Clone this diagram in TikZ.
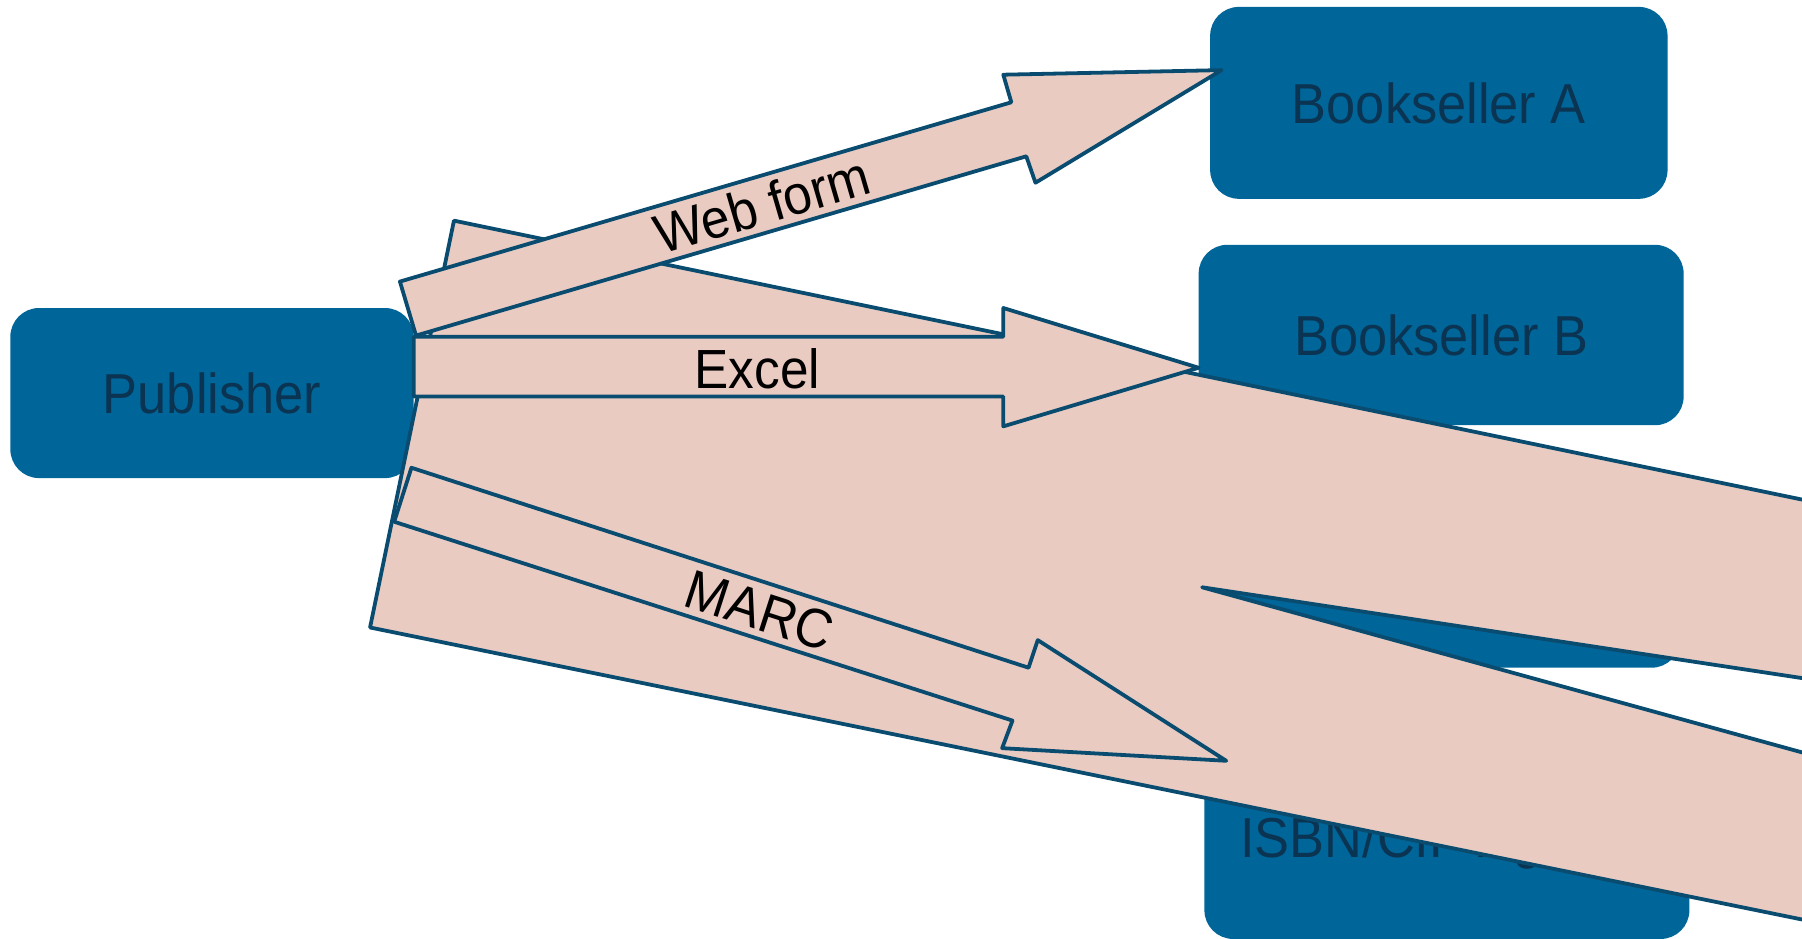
\documentclass[tikz,border=0pt]{standalone}
\usepackage{fontspec}
\setmainfont{Liberation Sans}

\definecolor{boxblue}{RGB}{0,102,153}
\definecolor{boxtext}{RGB}{10,52,82}
\definecolor{flowedge}{RGB}{10,76,112}
\definecolor{flowfill}{RGB}{234,203,194}

% slightly narrowed lettering
\newcommand\narrowtext[1]{\scalebox{0.93}[1]{#1}}

\tikzset{
  party/.style={rectangle, fill=boxblue, draw=none, rounded corners=25pt,
    inner sep=0pt, text=boxtext, text depth=0pt,
    font=\fontsize{49pt}{55pt}\selectfont},
  flow/.style={fill=flowfill, draw=flowedge, line width=3.3pt, line join=round},
  flowlabel/.style={inner sep=0pt, text=black, text depth=0pt,
    font=\fontsize{48pt}{54pt}\selectfont}
}

\begin{document}
\begin{tikzpicture}[x=1pt,y=-1pt]
\useasboundingbox (0,0) rectangle (1568,817);
\clip (0,0) rectangle (1568,817);

% parties
\node[party, minimum width=351pt, minimum height=148pt] (pub) at (184.5,342) {\narrowtext{Publisher}};
\node[party, minimum width=398pt, minimum height=167pt] (bsa) at (1252,89.5) {\narrowtext{Bookseller A}};
\node[party, minimum width=422pt, minimum height=157pt] (bsb) at (1254,291.5) {\narrowtext{Bookseller B}};
\node[party, minimum width=415pt, minimum height=161pt] (third) at (1254.5,500.5) {};
\node[party, minimum width=422pt, minimum height=177pt] (isbn) at (1259,728.5) {\narrowtext{ISBN/CIP Agency}};

% large forked band
\draw[flow] (395,192) -- (1700,462) -- (1700,610) -- (1046,511)
  -- (1700,691) -- (1700,827) -- (322,546) -- cycle;

% Excel
\draw[flow] (360,293) -- (873,293) -- (873,268) -- (1043,320)
  -- (873,371) -- (873,345) -- (360,345) -- cycle;

% Web form
\draw[flow] (348,245) -- (880,89) -- (873,65) -- (1063,61)
  -- (901,159) -- (893,136) -- (362,292) -- cycle;

% MARC
\draw[flow] (358,407) -- (895,581) -- (903,557) -- (1067,662)
  -- (872,651) -- (881,627) -- (343,454) -- cycle;

% labels
\node[flowlabel, rotate=16.3] (webl) at (663,178) {\narrowtext{Web form}};
\node[flowlabel] (excl) at (659,321) {\narrowtext{Excel}};
\node[flowlabel, rotate=-17.9] (marcl) at (661,531) {\narrowtext{MARC}};
\end{tikzpicture}
\end{document}
